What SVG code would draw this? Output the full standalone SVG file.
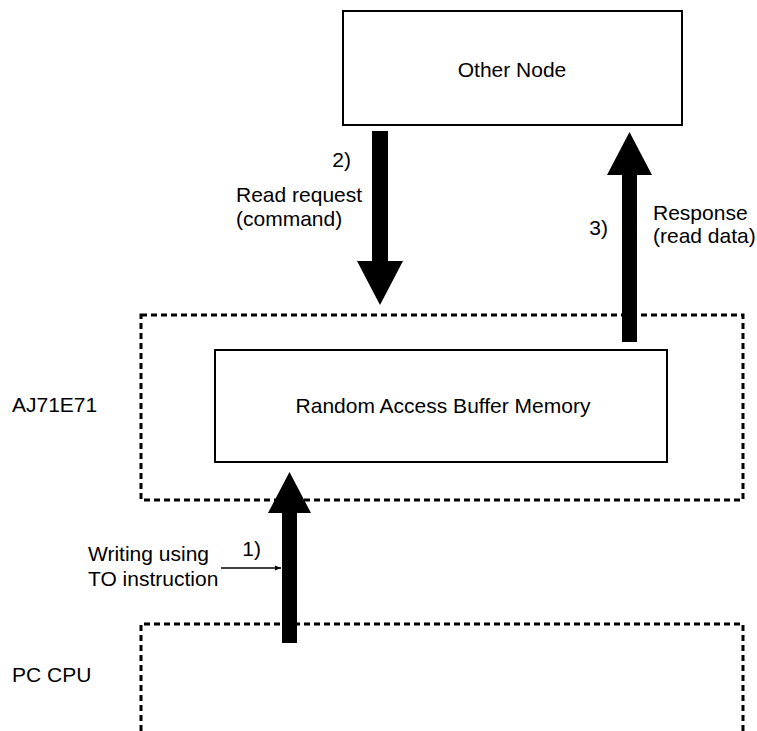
<svg xmlns="http://www.w3.org/2000/svg" width="757" height="731" viewBox="0 0 757 731">
<style>
.box{fill:#fff;stroke:#000;stroke-width:2}
.dash{fill:none;stroke:#000;stroke-width:3;stroke-dasharray:6 4}
.arrow{fill:#000;stroke:none}
text{font-family:"Liberation Sans",Arial,sans-serif;font-size:21px;fill:#000}
.c{text-anchor:middle}
.r{text-anchor:end}
</style>
<defs>
<marker id="ptr" viewBox="0 0 10 10" refX="10" refY="5" markerWidth="6" markerHeight="6" orient="auto" markerUnits="userSpaceOnUse">
<path d="M0,1 L10,5 L0,9 z" fill="#000"/>
</marker>
</defs>
<rect width="757" height="731" fill="#fff"/>
<g id="node-other">
<rect class="box" x="343" y="11" width="339" height="114"/>
<text class="c" x="512" y="77">Other Node</text>
</g>
<g id="node-aj71e71">
<rect class="dash" x="141" y="315" width="602" height="185"/>
<text x="12" y="412">AJ71E71</text>
</g>
<g id="node-buffer">
<rect class="box" x="215" y="350" width="452" height="112"/>
<text class="c" x="443" y="413">Random Access Buffer Memory</text>
</g>
<g id="node-pccpu">
<path class="dash" d="M141,731 V624 H743 V731"/>
<text x="12" y="682">PC CPU</text>
</g>
<g id="connectors">
<polygon class="arrow" points="372,131 388,131 388,261 403,261 380,305 357,261 372,261"/>
<polygon class="arrow" points="622,342 637,342 637,175 652,175 629.5,132 607,175 622,175"/>
<polygon class="arrow" points="282,643 297,643 297,513 311,513 289.5,472 268,513 282,513"/>
<line x1="221" y1="568" x2="281" y2="568" stroke="#000" stroke-width="1.5" marker-end="url(#ptr)"/>
</g>
<g id="labels">
<text class="r" x="351" y="167">2)</text>
<text x="236" y="202">Read request</text>
<text x="236" y="226">(command)</text>
<text class="r" x="608" y="235">3)</text>
<text x="653" y="220">Response</text>
<text x="653" y="243">(read data)</text>
<text class="r" x="261" y="556">1)</text>
<text x="88" y="561">Writing using</text>
<text x="88" y="586">TO instruction</text>
</g>
</svg>
